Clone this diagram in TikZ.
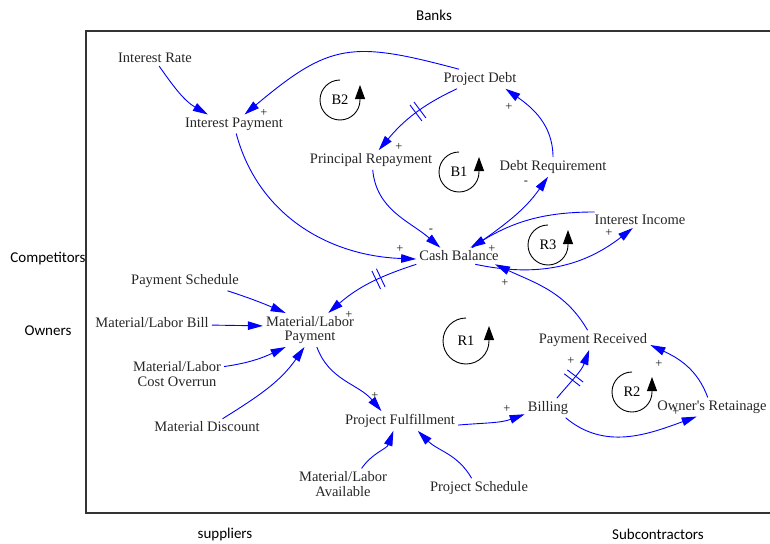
\documentclass[tikz,border=0pt]{standalone}
\usepackage{fontspec}
\setmainfont{Liberation Serif}
\newfontfamily\labelfont{Carlito}
\usetikzlibrary{arrows.meta,decorations.markings}

\tikzset{
  varnode/.style={inner sep=3pt, font=\fontsize{14.5}{14.5}\selectfont, align=center, text=black!85},
  link/.style={blue, line width=0.9pt, -{Triangle[length=15pt,width=8.5pt]}},
  delaymark/.style={decoration={markings, mark=at position #1 with {\draw[blue, line width=0.9pt, -] (-2.5,-10) -- (-2.5,10) (2.5,-10) -- (2.5,10);}}, postaction=decorate},
  polarity/.style={inner sep=0pt, font=\fontsize{12.5}{12.5}\selectfont, text=black!90},
  loopname/.style={inner sep=0pt, font=\fontsize{14.5}{14.5}\selectfont},
  looparrow/.style={black, line width=0.9pt, -{Triangle[length=14pt,width=10pt]}},
  actor/.style={font=\labelfont\fontsize{15}{15}\selectfont}
}

\begin{document}
\begin{tikzpicture}[x=1pt,y=1pt]
\useasboundingbox (0,0) rectangle (770,-543);

% frame and sectors
\draw[line width=1.2pt, black!80] (770,-31) -- (86,-31) -- (86,-513) -- (770,-513);
\node[actor] (banks) at (434,-15) {Banks};
\node[actor] (comp) at (48,-259) {Competitors};
\node[actor] (own) at (48,-331) {Owners};
\node[actor] (sup) at (225,-534) {suppliers};
\node[actor] (sub) at (658,-534) {Subcontractors};

% variables
\node[varnode] (ir) at (155,-58) {Interest Rate};
\node[varnode] (ip) at (234,-124) {Interest Payment};
\node[varnode] (pd) at (480,-79) {Project Debt};
\node[varnode] (pr) at (371,-160) {Principal Repayment};
\node[varnode] (dr) at (553,-167) {Debt Requirement};
\node[varnode] (cb) at (459,-256) {Cash Balance};
\node[varnode] (ii) at (640,-220) {Interest Income};
\node[varnode] (ps) at (185,-281) {Payment Schedule};
\node[varnode] (mlb) at (152,-323) {Material/Labor Bill};
\node[varnode] (mlp) at (310,-330) {Material/Labor\\Payment};
\node[varnode] (mlc) at (177,-374) {Material/Labor\\Cost Overrun};
\node[varnode] (md) at (207,-427) {Material Discount};
\node[varnode] (pf) at (400,-421) {Project Fulfillment};
\node[varnode] (bil) at (548,-408) {Billing};
\node[varnode] (prc) at (593,-340) {Payment Received};
\node[varnode] (ort) at (712,-407) {Owner\textquotesingle s Retainage};
\node[varnode] (mla) at (343,-484) {Material/Labor\\Available};
\node[varnode] (psc) at (479,-488) {Project Schedule};

% links
\draw[link] (ir.-63) to[out=-55,in=150] (ip.160);
\draw[link] (pd.155) to[out=165,in=40,looseness=1.3] (ip.42);
\draw[link,delaymark=0.45] (pd.203) to[out=205,in=50] (pr.52);
\draw[link] (pr.-80) to[out=-85,in=139] (cb.156);
\draw[link] (cb.32) to[out=35,in=235] (dr.243);
\draw[link] (dr.90) to[out=90,in=-35] (pd.-21);
\draw[link] (ip.-77) to[out=-75,in=178] (cb.184);
\draw[link,delaymark=0.4] (cb.191) to[out=198,in=41] (mlp.43);
\draw[link] (ii.170) to[out=180,in=31] (cb.36);
\draw[link] (cb.-27) to[out=-12,in=218] (ii.228);
\draw[link] (prc.119) to[out=120,in=-25] (cb.-13);
\draw[link] (ps.-13) to[out=-18,in=157] (mlp.145);
\draw[link] (mlb.-2) -- (mlp.175);
\draw[link] (mlc.9) to[out=8,in=205] (mlp.215);
\draw[link] (md.28) to[out=32,in=235] (mlp.252);
\draw[link] (mlp.-68) to[out=-70,in=130] (pf.152);
\draw[link] (pf.-4) to[out=5,in=200] (bil.195);
\draw[link,delaymark=0.45] (bil.48) to[out=50,in=250] (prc.249);
\draw[link] (bil.-29) to[out=-40,in=200] (ort.212);
\draw[link] (ort.114) to[out=110,in=-25] (prc.-5);
\draw[link] (mla.40) to[out=55,in=250] (pf.236);
\draw[link] (psc.127) to[out=120,in=-45] (pf.-29);

% link polarities
\foreach \x/\y/\s [count=\i] in {264/113/+, 399/147/+, 509/107/+, 431/231/-, 526/183/-,
    400/249/+, 492/249/+, 349/315/+, 609/233/+, 505/283/+, 375/396/+, 507/409/+,
    571/361/+, 659/364/+, 676/412/+}
  \node[polarity] (sign\i) at (\x,-\y) {\s};

% loops
\node[loopname] (b2) at (340,-100) {B2};
\node[loopname] (b1) at (459,-172) {B1};
\node[loopname] (r3) at (548,-245) {R3};
\node[loopname] (r1) at (466,-341) {R1};
\node[loopname] (r2) at (632,-392) {R2};
\draw[looparrow] (b2.center) ++(90:20) arc[start angle=90, end angle=360, radius=20] -- ++(0,15);
\draw[looparrow] (b1.center) ++(90:20) arc[start angle=90, end angle=360, radius=20] -- ++(0,15);
\draw[looparrow] (r3.center) ++(90:20) arc[start angle=90, end angle=360, radius=20] -- ++(0,15);
\draw[looparrow] (r1.center) ++(90:23) arc[start angle=90, end angle=360, radius=23] -- ++(0,15);
\draw[looparrow] (r2.center) ++(90:20) arc[start angle=90, end angle=360, radius=20] -- ++(0,15);
\end{tikzpicture}
\end{document}
